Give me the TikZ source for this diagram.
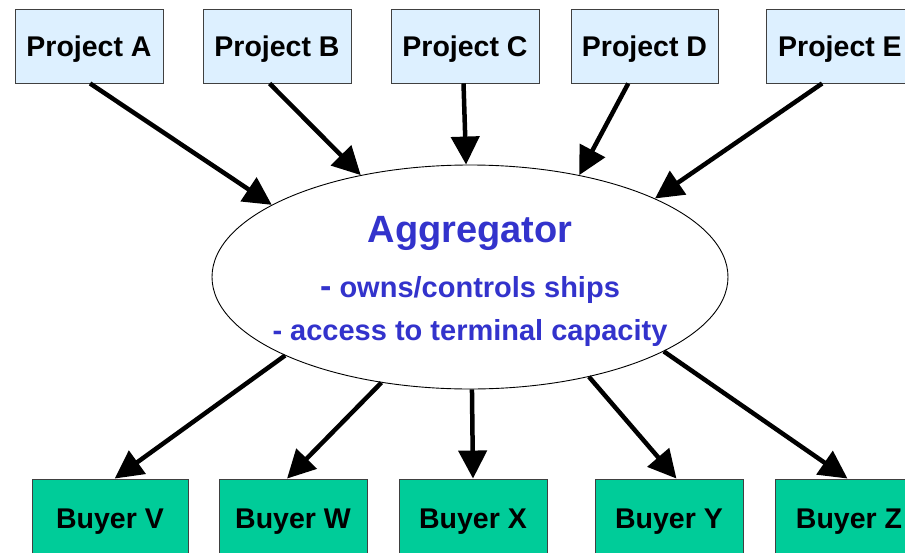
\documentclass[tikz,border=0pt]{standalone}
\usepackage{fontspec}
\setmainfont{Liberation Sans}
\usetikzlibrary{calc,shapes.geometric,arrows.meta}
\definecolor{projfill}{HTML}{DDF0FF}
\definecolor{buyfill}{HTML}{00CC99}
\definecolor{aggblue}{HTML}{3333CC}
\definecolor{boxline}{HTML}{404040}
\tikzset{
  projbox/.style={draw=boxline, line width=0.9pt, fill=projfill, minimum width=148pt, minimum height=74pt, inner sep=0pt,
    text height=26.5pt, text depth=6pt, font=\fontsize{28.5}{30}\selectfont\bfseries},
  buybox/.style={draw=boxline, line width=0.9pt, fill=buyfill, minimum width=148pt, minimum height=80pt, inner sep=0pt,
    text height=25pt, text depth=6pt, font=\fontsize{28.5}{30}\selectfont\bfseries},
  aggtext/.style={text=aggblue, inner sep=0pt, anchor=base},
  arr/.style={line width=4.5pt, -{Triangle[length=28pt,width=28pt]}}
}
\begin{document}
\begin{tikzpicture}[x=1pt,y=-1pt]
\useasboundingbox (0,0) rectangle (905,552);
\begin{scope}
\clip (0,0) rectangle (905,552);
% projects
\node[projbox] (pa) at (89,46) {Project A};
\node[projbox] (pb) at (277,46) {Project B};
\node[projbox] (pc) at (465,46) {Project C};
\node[projbox, minimum width=147pt] (pd) at (644.5,46) {Project D};
\node[projbox] (pe) at (840,46) {Project E};
% buyers
\node[buybox, minimum width=156pt] (bv) at (110,519) {Buyer V};
\node[buybox] (bw) at (293,519) {Buyer W};
\node[buybox] (bx) at (473,519) {Buyer X};
\node[buybox] (by) at (669,519) {Buyer Y};
\node[buybox] (bz) at (849,519) {Buyer Z};
% aggregator
\node[draw=black, line width=0.9pt, fill=white, ellipse, minimum width=516pt, minimum height=224pt, inner sep=0pt] (agg) at (470,277) {};
\node[aggtext, font=\fontsize{38}{40}\selectfont\bfseries] (t1) at (470,242) {Aggregator};
\node[aggtext, font=\fontsize{29}{31}\selectfont\bfseries] (t2) at (470,297) {{\fontsize{34}{34}\selectfont -} owns/controls ships};
\node[aggtext, font=\fontsize{29}{31}\selectfont\bfseries] (t3) at (470,340) {- access to terminal capacity};
% arrows in
\draw[arr] ($(pa.south west)!0.507!(pa.south east)$) -- (agg.160.3);
\draw[arr] ($(pb.south west)!0.45!(pb.south east)$) -- (agg.137.1);
\draw[arr] ($(pc.south west)!0.49!(pc.south east)$) -- (agg.92.6);
\draw[arr] ($(pd.south west)!0.39!(pd.south east)$) -- (agg.43.4);
\draw[arr] ($(pe.south west)!0.38!(pe.south east)$) -- (agg.23.3);
% arrows out
\draw[arr] (agg.203.4) -- ($(bv.north west)!0.53!(bv.north east)$);
\draw[arr] (agg.230.1) -- ($(bw.north west)!0.46!(bw.north east)$);
\draw[arr] (agg.271.5) -- ($(bx.north west)!0.5!(bx.north east)$);
\draw[arr] (agg.320.5) -- ($(by.north west)!0.55!(by.north east)$);
\draw[arr] (agg.339.8) -- ($(bz.north west)!0.49!(bz.north east)$);
\end{scope}
\end{tikzpicture}
\end{document}
